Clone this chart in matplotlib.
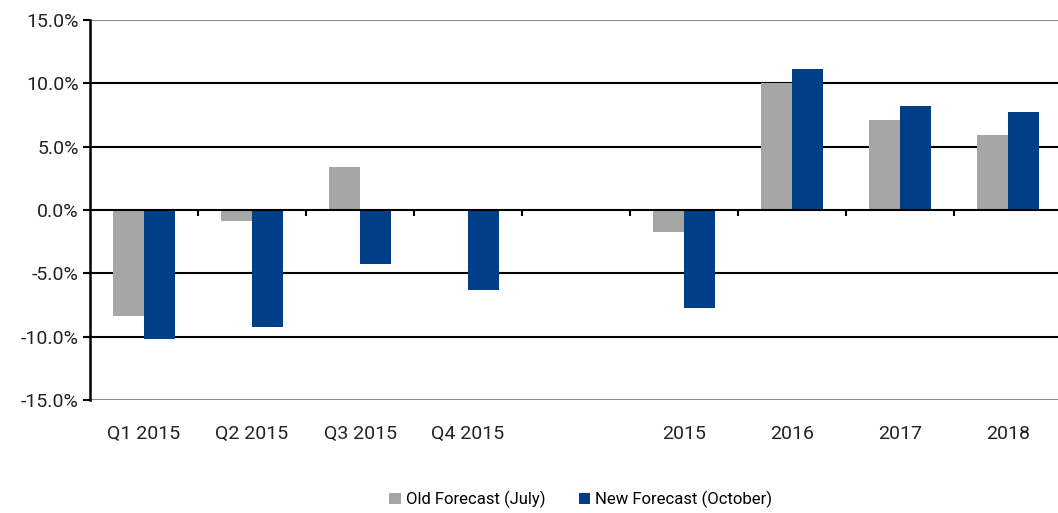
import matplotlib
matplotlib.use("Agg")
import matplotlib.pyplot as plt
import numpy as np

# datos
categorias = ["Q1 2015", "Q2 2015", "Q3 2015", "Q4 2015", "", "2015", "2016", "2017", "2018"]
old_forecast = [-8.4, -0.9, 3.4, 0.0, np.nan, -1.7, 10.0, 7.1, 5.9]
new_forecast = [-10.2, -9.2, -4.3, -6.3, np.nan, -7.7, 11.1, 8.2, 7.7]
yticks = [-15, -10, -5, 0, 5, 10, 15]

gris = "#a6a6a6"
azul = "#003f87"

plt.rcParams["font.family"] = ["Roboto", "DejaVu Sans"]

fig = plt.figure(figsize=(10.58, 5.13), dpi=100)
ax = fig.add_axes([90 / 1058, 1 - 400 / 513, 972 / 1058, 380 / 513])

x = np.arange(len(categorias))
ancho = 0.29
ax.bar(x - ancho / 2, old_forecast, ancho, color=gris, label="Old Forecast (July)", zorder=2)
ax.bar(x + ancho / 2, new_forecast, ancho, color=azul, label="New Forecast (October)", zorder=2)

# lineas horizontales
for t in yticks:
    if t in (yticks[0], yticks[-1]):
        ax.axhline(t, color="#8c8c8c", lw=1.5, zorder=1)
    else:
        ax.axhline(t, color="black", lw=1.5, zorder=1 if t != 0 else 3)

# marcas en la linea cero entre categorias
limites = x[:-1] + 0.5
ax.vlines(limites, -0.45, 0, color="black", lw=1.5, zorder=3)

ax.set_xlim(-0.5, len(categorias) - 0.5)
ax.set_ylim(-15, 15)
ax.set_yticks(yticks)
ax.set_yticklabels(["%.1f%%" % t for t in yticks], fontsize=14, color="#222222")
ax.set_xticks(x)
ax.set_xticklabels(categorias, fontsize=14, color="#222222")
ax.tick_params(axis="x", length=0, pad=18)
ax.tick_params(axis="y", length=5, width=1.5, direction="out", pad=3)

for s in ["top", "right", "bottom"]:
    ax.spines[s].set_visible(False)
ax.spines["left"].set_linewidth(1.8)

ax.legend(loc="upper center", bbox_to_anchor=(0.505, -0.2), ncol=2, frameon=False,
          fontsize=12, handlelength=0.7, handleheight=0.7, handletextpad=0.3,
          columnspacing=2.0)

fig.savefig("out.png", dpi=100)
